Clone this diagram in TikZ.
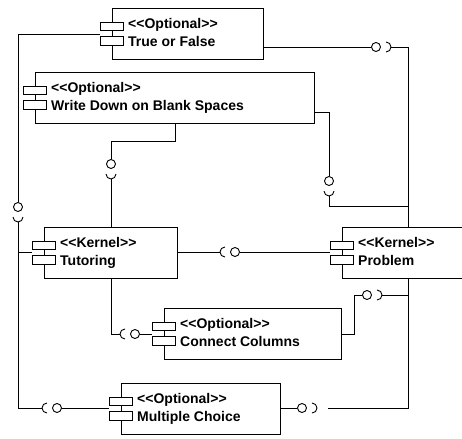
\documentclass[tikz,border=0pt]{standalone}
\usepackage{fontspec}
\setmainfont{Liberation Sans}
\usetikzlibrary{calc,positioning}
\tikzset{
  wire/.style={line width=0.9pt,black},
  comp/.style={draw,line width=1pt,fill=white,rectangle,minimum height=51pt,inner sep=0pt,outer sep=0pt,anchor=north west},
  tabbox/.style={draw,line width=1pt,fill=white},
  lbl/.style={font=\fontsize{14}{16}\selectfont\bfseries,inner sep=0pt,anchor=base west},
  ball/.style={draw,line width=0.9pt,fill=white,circle,minimum size=9pt,inner sep=0pt}
}

\begin{document}
\begin{tikzpicture}[x=1pt,y=-1pt]
\clip (0,0) rectangle (462,438);
% components
\foreach \n/\x/\y/\w/\s/\t in {tf/112/9/151/Optional/True or False,
    wd/35/73/279/Optional/Write Down on Blank Spaces,
    tu/44/227/133/Kernel/Tutoring, pr/342/227/140/Kernel/Problem,
    cc/164/308/177/Optional/Connect Columns, mc/121/383/159/Optional/Multiple Choice}{
  \node[comp,minimum width=\w pt] (\n) at (\x,\y) {};
  \draw[tabbox] ($(\n.north west)+(-12,14)$) rectangle ++(23,8);
  \draw[tabbox] ($(\n.north west)+(-12,28)$) rectangle ++(23,9);
  \node[lbl] (\n-s) at ($(\n.north west)+(16,20)$) {<\kern0pt<\s>\kern0pt>};
  \node[lbl] (\n-t) at ($(\n.north west)+(16,38)$) {\t};
}
% balls and sockets
\coordinate (rx) at (408,0); \coordinate (lx) at (18,0);
\foreach \b/\bx/\by/\c/\cx/\cy/\a in {b1/376/47/s1/386/47/0, b2/329/181/s2/329/191/270,
    b3/367/295/s3/377/295/0, b4/302/408/s4/312/408/0, b5/235/252/s5/225/252/180,
    b6/111/164/s6/111/174/270, b7/135/334/s7/125/334/180, b8/57/408/s8/47/408/180,
    b9/18/207/s9/18/217/270}{
  \node[ball] (\b) at (\bx,\by) {};
  \coordinate (\c) at (\cx,\cy);
  \draw[wire] ($(\c)+(\a+90:5pt)$) arc[start angle=\a+90,end angle=\a-90,radius=5pt];
}
\coordinate (j2) at (408,206);
% wires to Problem
\draw[wire] ($(tf.north east)+(0,38)$) -- (b1) (s1) ++(5,0) -- (rx |- s1) -- (rx |- pr.north);
\draw[wire] ($(wd.north east)+(0,39)$) -| (b2) (s2) ++(0,5) |- (j2);
\draw[wire] ($(cc.north east)+(0,26)$) -- ++(13,0) |- (b3) (s3) ++(5,0) -- (rx |- s3) -- (rx |- pr.south);
\draw[wire] ($(mc.north east)+(0,25)$) -- (b4) ($(s4)+(16,0)$) -- (rx |- s4) -- (rx |- pr.south);
\draw[wire] ($(tu.north east)+(0,25)$) -- ($(s5)+(-5,0)$) (b5) -- ($(pr.north west)+(-12,25)$);
% wires to Tutoring
\draw[wire] ($(wd.south west)+(140,0)$) -- ++(0,17) -| (b6) (s6) ++(0,5) -- (s6 |- tu.north);
\draw[wire] (b6 |- tu.south) |- ($(s7)+(-5,0)$) (b7) -- ($(cc.north west)+(-12,26)$);
\draw[wire] ($(tf.north west)+(-12,25)$) -| (b9) (s9) ++(0,5) |- ($(s8)+(-5,0)$) (b8) -- ($(mc.north west)+(-12,25)$);
\draw[wire] ($(tu.north west)+(-12,25)$) -- (lx |- s5);
\end{tikzpicture}
\end{document}
